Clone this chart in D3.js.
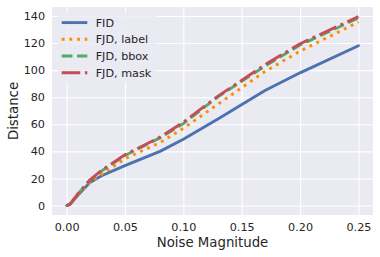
<!DOCTYPE html>
<html><head><meta charset="utf-8">
<script src="https://cdn.jsdelivr.net/npm/d3@7"></script>
<style>body{margin:0;background:#fff}svg{display:block}text{font-family:"DejaVu Sans",sans-serif;fill:#262626}</style>
</head><body><svg id="c" width="380" height="257"></svg>
<script>
const noise = [0, 0.003, 0.01, 0.02, 0.03, 0.05, 0.08, 0.1, 0.13, 0.17, 0.2, 0.25];
const fid      = [0, 1, 8, 17, 22, 29.5, 40, 49, 64, 85, 98, 118];
const fjdLabel = [0, 1, 8.5, 17, 23, 34.5, 46.5, 57, 75, 99, 114, 135.5];
const fjdBbox  = [0, 1, 9, 18.5, 25.5, 37, 50, 60.5, 80.5, 103, 118.5, 138.5];
const fjdMask  = [0, 1, 9, 19, 26, 37.5, 50.5, 61.5, 81, 104, 119.5, 139.5];
const seriesNames = ["FID", "FJD, label", "FJD, bbox", "FJD, mask"];
const xTicks = [0, 0.05, 0.10, 0.15, 0.20, 0.25];
const yTicks = [0, 20, 40, 60, 80, 100, 120, 140];

const lw = 2.9;
const styles = [
  {color:"#4c72b0", dash:null},
  {color:"#ff8c00", dash:[1*lw, 1.65*lw]},
  {color:"#55a868", dash:[3.7*lw, 1.6*lw]},
  {color:"#c44e52", dash:[6.4*lw, 1.6*lw, 1*lw, 1.6*lw]}
];
const allSeries = [fid, fjdLabel, fjdBbox, fjdMask];

const svg = d3.select("#c");
const L = 52, R = 373, T = 7, B = 215;
const x = d3.scaleLinear().domain([-0.0125, 0.2625]).range([L, R]);
const y = d3.scaleLinear().domain([-6.98, 146.6]).range([B, T]);

svg.append("rect").attr("x", L).attr("y", T).attr("width", R - L).attr("height", B - T).attr("fill", "#eaeaf2");

const gx = svg.append("g").attr("transform", `translate(0,${B})`)
  .call(d3.axisBottom(x).tickValues(xTicks).tickFormat(d3.format(".2f")).tickSize(-(B - T)).tickPadding(8));
const gy = svg.append("g").attr("transform", `translate(${L},0)`)
  .call(d3.axisLeft(y).tickValues(yTicks).tickFormat(d3.format("d")).tickSize(-(R - L)).tickPadding(7));
[gx, gy].forEach(g => {
  g.select(".domain").remove();
  g.selectAll(".tick line").attr("stroke", "#fff").attr("stroke-width", 1.1);
  g.selectAll(".tick text").attr("font-size", 11.2).attr("fill", "#262626").style("font-family", '"DejaVu Sans",sans-serif');
});

const line = d3.line().x((d, i) => x(noise[i])).y(d => y(d));
allSeries.forEach((s, k) => {
  const p = svg.append("path").datum(s).attr("d", line).attr("fill", "none")
    .attr("stroke", styles[k].color).attr("stroke-width", lw).attr("stroke-linejoin", "round");
  if (styles[k].dash) p.attr("stroke-dasharray", styles[k].dash.join(","));
  else p.attr("stroke-linecap", "round");
});

// legend
const lg = svg.append("g");
lg.append("rect").attr("x", 57.6).attr("y", 12.6).attr("width", 99).attr("height", 70).attr("rx", 3)
  .attr("fill", "#eaeaf2").attr("fill-opacity", 0.8);
seriesNames.forEach((n, k) => {
  const cy = 22.6 + k * 16.7;
  const h = lg.append("line").attr("x1", 61.7).attr("x2", 87.3).attr("y1", cy).attr("y2", cy)
    .attr("stroke", styles[k].color).attr("stroke-width", lw);
  if (styles[k].dash) h.attr("stroke-dasharray", styles[k].dash.join(","));
  lg.append("text").attr("x", 95.7).attr("y", cy).attr("dy", "0.36em").attr("font-size", 11.2).text(n);
});

svg.append("text").attr("x", (L + R) / 2).attr("y", 247).attr("text-anchor", "middle").attr("font-size", 13.3).text("Noise Magnitude");
svg.append("text").attr("transform", `translate(17.5,${(T + B) / 2}) rotate(-90)`).attr("text-anchor", "middle").attr("font-size", 13.3).text("Distance");
</script></body></html>
